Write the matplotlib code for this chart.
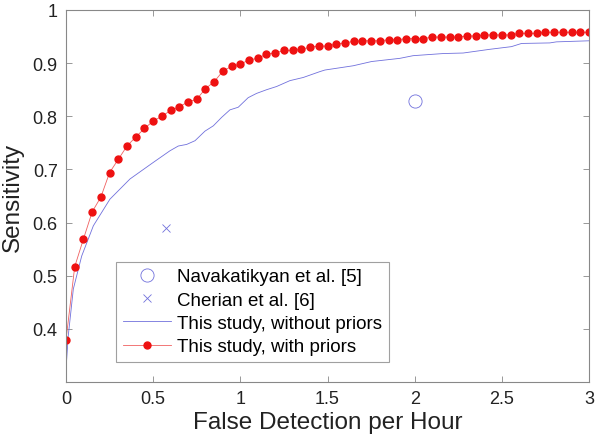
import matplotlib
matplotlib.use('Agg')
import matplotlib.pyplot as plt
import numpy as np

plt.rcParams['font.family'] = ['Liberation Sans', 'DejaVu Sans']

# this study, with priors (every 0.05 false detections / hour)
fd_priors = np.arange(0, 61) * 0.05
sens_priors = [0.379, 0.517, 0.569, 0.620, 0.648, 0.694, 0.719, 0.744, 0.761, 0.777,
               0.791, 0.800, 0.811, 0.818, 0.827, 0.832, 0.852, 0.865, 0.885, 0.894,
               0.898, 0.906, 0.909, 0.917, 0.919, 0.924, 0.924, 0.926, 0.930, 0.932,
               0.932, 0.936, 0.938, 0.941, 0.942, 0.942, 0.942, 0.944, 0.944, 0.946,
               0.946, 0.946, 0.949, 0.949, 0.949, 0.949, 0.951, 0.951, 0.953, 0.953,
               0.953, 0.953, 0.956, 0.956, 0.956, 0.958, 0.958, 0.958, 0.958, 0.958,
               0.958]

# this study, without priors
fd_nopriors = [0.0, 0.013, 0.042, 0.090, 0.157, 0.252, 0.367, 0.50, 0.596, 0.644,
               0.692, 0.740, 0.797, 0.845, 0.893, 0.940, 0.988, 1.045, 1.093, 1.151,
               1.208, 1.284, 1.361, 1.456, 1.485, 1.647, 1.753, 1.915, 1.991, 2.163,
               2.278, 2.431, 2.555, 2.613, 2.775, 2.813, 3.0]
sens_nopriors = [0.324, 0.387, 0.475, 0.537, 0.594, 0.644, 0.682, 0.713, 0.735, 0.744,
                 0.747, 0.754, 0.772, 0.782, 0.798, 0.812, 0.817, 0.835, 0.843, 0.850,
                 0.856, 0.867, 0.873, 0.884, 0.887, 0.895, 0.903, 0.909, 0.914, 0.918,
                 0.919, 0.926, 0.931, 0.937, 0.938, 0.940, 0.942]

# other studies
nava_x, nava_y = [2.0], [0.828]
cher_x, cher_y = [0.572], [0.589]

xticks = [0, 0.5, 1, 1.5, 2, 2.5, 3]
xtick_labels = ['0', '0.5', '1', '1.5', '2', '2.5', '3']
yticks = [0.4, 0.5, 0.6, 0.7, 0.8, 0.9, 1.0]
ytick_labels = ['0.4', '0.5', '0.6', '0.7', '0.8', '0.9', '1']

blue = '#7070dc'
red = '#ee1111'
fig = plt.figure(figsize=(6, 4.39), dpi=100)
ax = fig.add_axes([0.11, 0.1276, 0.8717, 0.8474])

ax.plot(nava_x, nava_y, 'o', mfc='none', mec=blue, ms=9.5, mew=0.6,
        label='Navakatikyan et al. [5]')
ax.plot(cher_x, cher_y, 'x', color=blue, ms=6, mew=0.6,
        label='Cherian et al. [6]')
ax.plot(fd_nopriors, sens_nopriors, '-', color=blue, lw=0.6,
        label='This study, without priors')
ax.plot(fd_priors, sens_priors, '-', color='#f06060', lw=0.6, marker='o', ms=5,
        mfc=red, mec=red, label='This study, with priors')

ax.set_xlim(0, 3)
ax.set_ylim(0.3, 1)
ax.set_xticks(xticks)
ax.set_xticklabels(xtick_labels)
ax.set_yticks(yticks)
ax.set_yticklabels(ytick_labels)
ax.tick_params(direction='in', top=True, right=True, length=4, width=0.6,
               color='#888888', labelsize=13, labelcolor='#222222', pad=6)
for s in ax.spines.values():
    s.set_color('#888888')
    s.set_linewidth(0.8)

ax.set_xlabel('False Detection per Hour', fontsize=17.5, color='#222222', labelpad=3)
ax.set_ylabel('Sensitivity', fontsize=17.5, color='#222222', labelpad=6)

leg = ax.legend(loc='lower left', bbox_to_anchor=(0.0956, 0.054), borderaxespad=0,
                fontsize=13.5, fancybox=False, handlelength=2.6, labelspacing=0.33,
                borderpad=0.35, handletextpad=0.3)
leg.get_frame().set_edgecolor('#888888')
leg.get_frame().set_linewidth(0.8)

fig.savefig('out.png', dpi=100)
